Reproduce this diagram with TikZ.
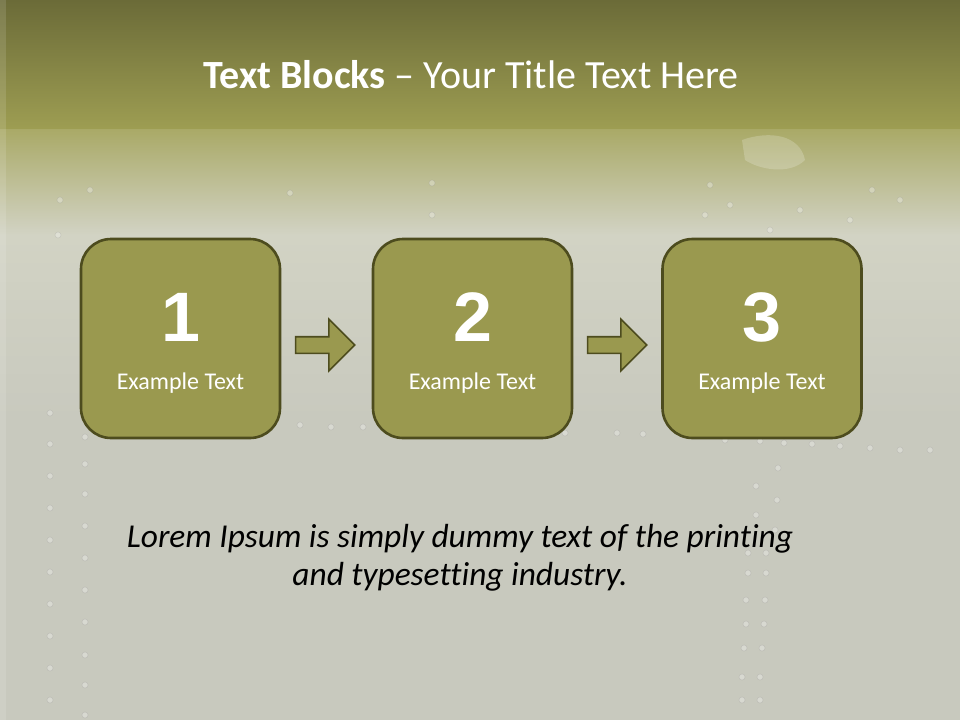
\documentclass[tikz,border=0pt]{standalone}
\usepackage{fontspec}
\setmainfont[Ligatures=NoCommon]{Carlito}
\newfontfamily\numfont{Liberation Sans}
\usetikzlibrary{shapes.arrows,calc}
\definecolor{bandtop}{HTML}{6B6B38}
\definecolor{bandbot}{HTML}{9D9D52}
\definecolor{fadetop}{HTML}{A9A966}
\definecolor{fademid}{HTML}{D2D3C4}
\definecolor{plate}{HTML}{C8C9BE}
\definecolor{boxfill}{HTML}{9A994F}
\definecolor{boxline}{HTML}{4D4C1E}
\tikzset{
  stepbox/.style={draw=boxline, line width=2.6pt, fill=boxfill, rounded corners=30pt,
    minimum width=199pt, minimum height=199pt, inner sep=0pt},
  blockarrow/.style={single arrow, draw=boxline, line width=1.6pt, fill=boxfill,
    minimum height=59pt, inner sep=7.5pt, single arrow head extend=17.5pt,
    single arrow tip angle=90},
  numtext/.style={text=white, font=\numfont\bfseries\fontsize{70}{70}\selectfont, inner sep=0pt},
  labtext/.style={text=white, font=\fontsize{24}{28}\selectfont, inner sep=0pt},
  rivet/.style={fill=white, fill opacity=0.3, draw=black!50, draw opacity=0.2, line width=0.6pt}
}
\begin{document}
\begin{tikzpicture}[x=1pt,y=-1pt]
\useasboundingbox (0,0) rectangle (960,720);
% background
\fill[plate] (0,0) rectangle (960,720);
\shade[top color=fadetop, bottom color=fademid] (0,128) rectangle (960,235);
\shade[top color=fademid, bottom color=plate] (0,235) rectangle (960,420);
\shade[top color=bandtop, bottom color=bandbot] (0,0) rectangle (960,128);
\fill[white, opacity=0.12] (0,0) rectangle (6,720);
% rivets
\foreach \x/\y in {432/183,432/215,290/193,300/425,331/427,363/427,565/433,617/433,643/434,725/440,760/441,784/443,812/444,840/446,870/448,900/450,930/450,
  778/468,756/486,777/500,756/515,775/530,748/553,766/553,748/573,766/573,746/600,765/600,746/624,764/624,744/648,762/648,742/677,760/677,742/700,760/700,
  50/413,50/444,50/476,50/508,50/540,50/572,50/604,50/636,50/668,50/700,
  85/437,85/464,85/494,85/526,85/558,85/590,85/622,85/655,85/685,85/715,
  60/200,58/235,90/190,710/185,705/215,730/205,770/230,800/210,850/220,872/190,900/200}
  \filldraw[rivet] (\x,\y) circle (3pt);
\fill[white, opacity=0.2] (742,140) .. controls (770,130) and (800,135) .. (805,160) .. controls (790,175) and (760,170) .. (745,160) -- cycle;
% title
\node[text=white, font=\fontsize{40}{44}\selectfont, anchor=base, inner sep=0pt] (title) at (471,88)
  {\textbf{Text Blocks} – Your Title Text Here};
% boxes
\node[stepbox] (b1) at (180.5,338.5) {};
\node[stepbox] (b2) at (472.5,338.5) {};
\node[stepbox] (b3) at (762,338.5) {};
\foreach \b/\n in {b1/1,b2/2,b3/3}{
  \node[numtext] (n\b) at ($(\b.center)+(0,-21)$) {\n};
  \node[labtext, anchor=base] (l\b) at ($(\b.center)+(0,51)$) {Example Text};
}
% arrows
\node[blockarrow] (a1) at (321,345) {};
\node[blockarrow] (a2) at (613,345) {};
% body text
\node[font=\itshape\fontsize{33.4}{38}\selectfont, align=center, text=black, anchor=base, inner sep=0pt] (body) at (460,585)
  {Lorem Ipsum is simply dummy text of the printing\\and typesetting industry.};
\end{tikzpicture}
\end{document}
